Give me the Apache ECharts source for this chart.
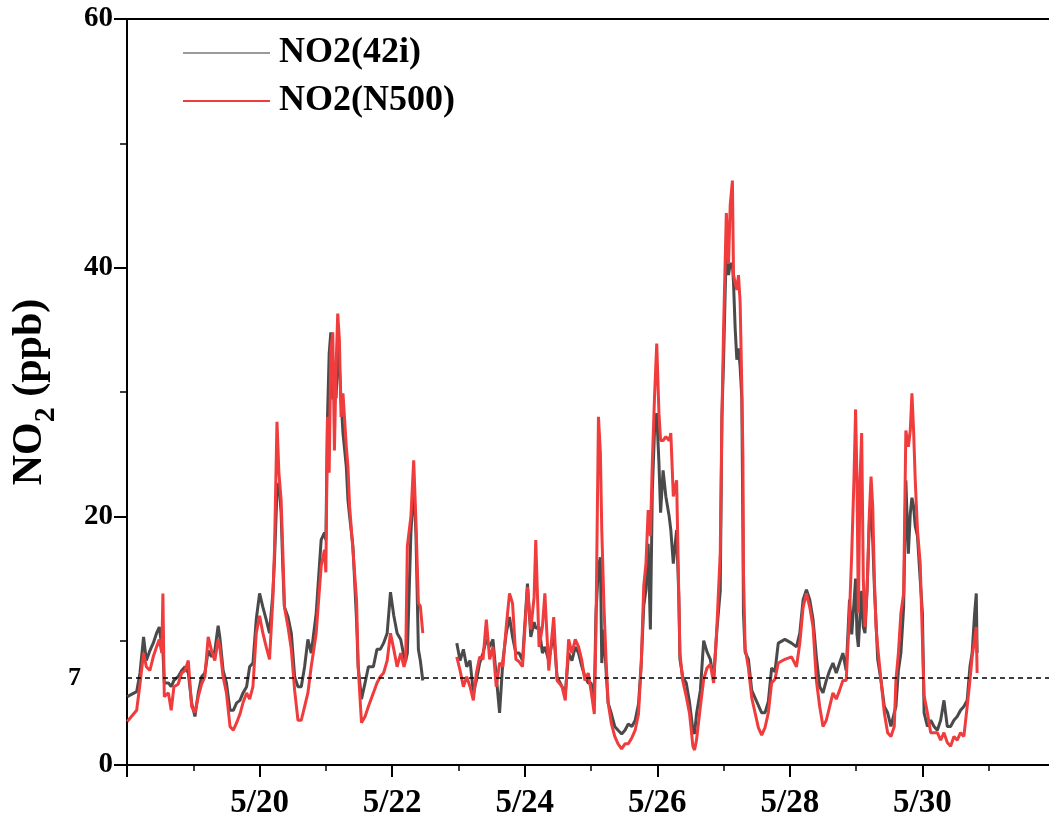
<!DOCTYPE html>
<html>
<head>
<meta charset="utf-8">
<script src="https://cdn.jsdelivr.net/npm/echarts@6/dist/echarts.min.js"></script>
<style>
html,body{margin:0;padding:0;background:#fff;}
#chart{width:1049px;height:831px;}
</style>
</head>
<body>
<div id="chart"></div>
<script>
// hours since 5/18 00:00; null marks a data gap
const hours = [
0.1,3.5,4.7,6,7,8.3,9.5,10.7,11.7,12.6,13,13.5,15,16,17,18.5,19.8,21,22.2,23.4,
24.6,25.8,27,28.2,29.4,30.6,31.8,33,33.6,34.8,36,37.3,38.5,39.7,40.9,42,43.3,44.4,45.6,46.8,
48,49.2,50.4,51.6,52.8,53.4,54.3,55,55.8,56.4,57,58.3,59.5,60.7,61.9,63.1,64.3,65.5,66.7,68.5,
70.3,71.5,72,72.6,73.2,73.8,74.5,75.1,75.7,76.3,76.9,77.5,78.2,79.4,80,80.6,81.8,83.1,83.7,84.9,
86.2,87.4,89.2,90.5,91.7,92.9,94.2,95.4,96.6,97.8,99.1,100.3,100.9,101.5,102.8,103.8,104.6,105.5,106.2,107.1,
113,
119.4,120.6,121.8,123,124.2,125.4,126.5,127.7,128.9,130.1,131.3,132.5,133.7,134.9,136.1,137.3,138.5,139.6,140.8,142,
143.2,145,146.2,147.4,148,149.2,150.4,151.3,152.7,154.5,155.7,157.5,158.7,159.9,161.1,162.3,163.5,164.6,165.8,167,
168,169.2,169.8,170.7,171.4,171.9,172.7,173.5,174.2,175.4,176.6,177.8,179.1,180.3,181.5,182.8,184,185.2,186.2,187.1,
187.9,188.7,189.5,190.2,191,191.8,192.6,193.2,194.1,195.1,196.3,196.9,197.8,199,199.8,200.2,201.2,202.5,203.7,204.9,
205.5,206.2,207.6,208.8,210,211.2,212.4,213.6,214.8,215.4,216,217,217.8,218.4,219.2,219.6,220.2,220.8,221.4,222,
222.6,223,223.2,223.8,225,226.2,227.4,228.6,229.8,231,232.2,233.4,234.6,235.8,238.2,240.6,242.4,243.6,244.8,246,
247.2,248.4,249.6,250.8,252,253.2,254.4,255.6,256.8,258,259.2,260.4,261.6,262.4,263.2,263.8,264.3,264.8,265.4,266,
266.6,267.2,268,268.8,269.4,270,270.6,271.2,271.8,273,274.2,275.4,276.6,277.8,278.4,279.3,280.2,281.2,282,282.9,
283.6,284.2,284.8,285.4,286.2,287.2,288,288.6,289.8,291,292.2,293.4,294.6,295.8,297,298.2,299.4,300.6,301.8,303,
304.2,305.2,306,306.9,307.5,307.8
];
const no2_42i = [
5.5,5.9,7.4,10.3,8.4,9.2,9.8,10.6,11.1,9.5,9.2,6.6,6.6,6.3,6.8,7.1,7.6,7.9,7.4,5.0,
3.9,5.8,7.1,7.4,9.2,8.7,9.2,11.2,10.3,7.6,6.6,4.4,4.4,5.0,5.2,5.8,6.3,7.9,8.2,11.7,
13.8,12.7,11.7,10.6,13.8,16.5,22.0,22.7,20.3,16.0,12.7,11.9,10.6,7.1,6.3,6.3,7.9,10.1,9.0,12.2,
18.1,18.7,18.1,28.0,33.1,34.8,29.4,30.7,29.5,33.4,32.0,29.4,26.7,24.0,21.3,20.0,17.6,11.7,7.9,5.3,
6.6,7.9,7.9,9.3,9.3,9.8,10.6,13.9,12.0,10.6,10.1,8.7,8.4,9.0,18.7,22.4,18.7,9.3,8.4,6.8,
null,
9.8,8.4,9.3,7.9,8.4,5.8,6.8,8.2,9.0,10.1,9.5,10.1,7.1,4.2,8.4,10.6,11.9,10.3,9.0,9.0,
8.4,14.6,10.3,11.5,11.0,11.1,9.0,9.5,8.4,10.6,7.1,6.3,5.8,9.0,8.4,9.5,9.0,8.0,7.1,6.6,
6.6,5.5,12.2,16.0,16.7,8.2,10.9,7.4,5.0,4.1,3.1,2.8,2.5,2.8,3.3,3.1,3.6,4.9,8.2,12.8,
14.1,17.8,10.9,22.0,26.9,28.3,24.3,20.3,23.7,21.6,20.0,18.9,16.2,18.9,13.5,8.5,7.1,6.6,5.0,2.8,
2.5,4.1,6.0,10.0,9.1,8.5,6.9,10.9,14.0,28.0,32.6,41.9,39.4,40.3,40.3,38.8,35.1,32.6,33.5,32.0,
29.5,19.0,12.2,9.1,8.5,6.0,5.4,4.8,4.2,4.2,5.1,7.8,7.5,9.8,10.1,9.8,9.5,10.6,13.3,14.1,
13.3,11.7,8.7,6.3,5.8,6.8,7.6,8.2,7.4,8.2,9.0,7.6,13.3,10.5,13.0,15.0,10.5,9.5,12.0,14.0,
11.1,10.6,14.3,19.7,21.0,18.1,14.3,11.5,8.5,6.8,4.7,4.2,3.1,4.2,4.7,7.6,9.0,12.7,22.9,17.0,
20.2,21.5,20.8,19.2,18.4,14.9,12.2,4.2,3.1,3.6,3.1,2.8,3.6,5.2,3.1,3.1,3.6,3.9,4.4,4.7,
5.2,7.9,9.0,12.2,13.8,9.0
];
const no2_N500 = [
3.5,4.4,6.5,9.0,7.9,7.6,8.7,9.5,10.1,9.0,13.8,5.5,5.8,4.4,6.3,6.5,7.4,7.6,8.4,4.7,
4.2,5.5,6.5,7.1,10.3,9.2,8.4,10.1,9.5,7.1,5.8,3.1,2.8,3.4,4.1,5.0,5.8,5.3,6.3,10.6,
12.0,10.6,9.5,8.5,13.3,17.3,27.6,23.5,21.3,17.3,12.7,11.1,9.3,6.0,3.6,3.6,4.7,5.8,7.9,10.6,
16.0,17.3,15.5,28.0,23.5,33.4,34.8,25.3,32.0,36.3,34.2,28.0,29.9,25.6,24.0,20.8,17.3,13.3,7.9,3.4,
3.9,4.7,5.8,6.6,7.1,7.4,8.4,10.6,9.3,7.9,9.0,7.9,8.4,17.6,20.0,24.5,19.7,13.0,12.8,10.6,
null,
8.7,7.6,6.3,7.1,6.3,5.2,7.4,8.7,8.5,11.7,8.5,9.5,6.3,8.2,7.9,11.1,13.8,13.0,8.5,8.3,
7.9,14.3,10.9,13.5,18.1,9.5,11.1,13.8,7.6,11.9,6.8,6.3,5.2,10.1,9.0,10.1,9.5,8.5,6.8,7.4,
6.0,4.1,10.9,28.0,25.1,18.9,12.7,8.2,5.0,3.3,2.3,1.7,1.3,1.7,1.7,2.2,2.8,4.1,8.2,14.4,
16.2,20.5,18.4,24.3,29.6,33.9,28.3,26.1,26.1,26.4,26.1,26.7,21.6,22.9,13.5,9.0,6.8,5.5,4.1,1.5,
1.2,2.0,4.7,6.9,7.8,8.1,6.6,11.2,17.1,28.0,35.1,44.4,40.3,45.0,47.0,39.4,38.8,38.2,39.4,37.2,
30.4,24.9,15.6,9.4,7.8,5.4,4.2,3.0,2.4,3.0,4.2,6.6,6.9,8.2,8.5,8.7,7.9,9.8,12.7,13.8,
12.7,11.1,6.8,4.7,3.1,3.6,4.7,5.8,5.3,6.0,6.8,6.8,12.2,17.0,22.9,28.6,22.9,12.2,22.9,26.7,
14.9,11.1,14.3,20.3,23.2,20.8,14.9,11.1,9.5,6.8,4.2,2.6,2.3,3.1,6.8,9.0,12.2,13.8,26.9,25.6,
26.9,29.9,26.9,22.9,18.9,16.2,10.1,5.6,4.2,2.6,2.6,2.6,2.0,2.6,1.8,1.5,2.3,2.0,2.6,2.3,
4.7,6.8,8.7,10.1,11.1,7.4
];
const yTicks = [0, 20, 40, 60];
const refLevel = 7;
const seriesNames = ['NO2(42i)', 'NO2(N500)'];

const pairs = (vals) => hours.map((h, i) => [h, vals[i]]);
const FONT = '"Liberation Serif", "Times New Roman", serif';

const chart = echarts.init(document.getElementById('chart'), null, {renderer: 'canvas'});
chart.setOption({
  animation: false,
  backgroundColor: '#fff',
  grid: {left: 127, top: 19, width: 928, height: 746, containLabel: false, outerBoundsMode: 'none'},
  legend: {
    orient: 'vertical', left: 178, top: 30, itemGap: 12,
    itemWidth: 87, itemHeight: 2,
    textStyle: {fontFamily: FONT, fontWeight: 'bold', fontSize: 36, color: '#000', padding: [0,0,0,4]},
    data: [
      {name: seriesNames[0], icon: 'rect', itemStyle: {color: '#9a9a9a'}},
      {name: seriesNames[1], icon: 'rect', itemStyle: {color: '#f03c3c'}}
    ]
  },
  xAxis: [{
    type: 'value', min: 0, max: 336, interval: 48,
    axisLine: {show: true, onZero: false, lineStyle: {color: '#000', width: 2}},
    axisTick: {show: true, inside: false, length: 12, lineStyle: {color: '#000', width: 2}},
    minorTick: {show: true, splitNumber: 2, length: 6, lineStyle: {color: '#000', width: 1.5}},
    splitLine: {show: false},
    axisLabel: {
      margin: 22, fontFamily: FONT, fontWeight: 'bold', fontSize: 33, color: '#000',
      formatter: (v) => (v <= 0 || v >= 330) ? '' : '5/' + (18 + v / 24)
    }
  }, {
    type: 'value', position: 'top', min: 0, max: 336,
    axisLine: {show: true, onZero: false, lineStyle: {color: '#000', width: 2}},
    axisTick: {show: false}, axisLabel: {show: false}, splitLine: {show: false}
  }],
  yAxis: {
    type: 'value', min: yTicks[0], max: yTicks[yTicks.length - 1], interval: 20,
    axisLine: {show: true, onZero: false, lineStyle: {color: '#000', width: 2}},
    axisTick: {show: true, inside: false, length: 13, lineStyle: {color: '#000', width: 2}},
    minorTick: {show: true, splitNumber: 2, length: 7, lineStyle: {color: '#000', width: 1.5}},
    splitLine: {show: false},
    axisLabel: {margin: 14, fontFamily: FONT, fontWeight: 'bold', fontSize: 29, color: '#000'},
    name: 'NO{s|2} (ppb)',
    nameLocation: 'middle', nameGap: 76, nameRotate: 90,
    nameTextStyle: {
      fontFamily: FONT, fontWeight: 'bold', fontSize: 42, color: '#000',
      rich: {s: {fontFamily: FONT, fontWeight: 'bold', fontSize: 30, color: '#000', verticalAlign: 'bottom', padding: [0,0,-10,0]}}
    }
  },
  series: [
    {
      name: seriesNames[0], type: 'line', data: pairs(no2_42i),
      showSymbol: false, symbol: 'none', connectNulls: false,
      lineStyle: {color: '#4a4a4a', width: 3}, itemStyle: {color: '#4a4a4a'},
      z: 2
    },
    {
      name: seriesNames[1], type: 'line', data: pairs(no2_N500),
      showSymbol: false, symbol: 'none', connectNulls: false,
      lineStyle: {color: '#f03c3c', width: 3}, itemStyle: {color: '#f03c3c'},
      z: 3,
      markLine: {
        silent: true, symbol: 'none',
        lineStyle: {color: '#000', type: [5, 4], width: 1.5},
        label: {show: true, position: 'start', distance: 46, formatter: String(refLevel),
          fontFamily: FONT, fontWeight: 'bold', fontSize: 26, color: '#000'},
        data: [{yAxis: refLevel}]
      }
    }
  ]
});
</script>
</body>
</html>
